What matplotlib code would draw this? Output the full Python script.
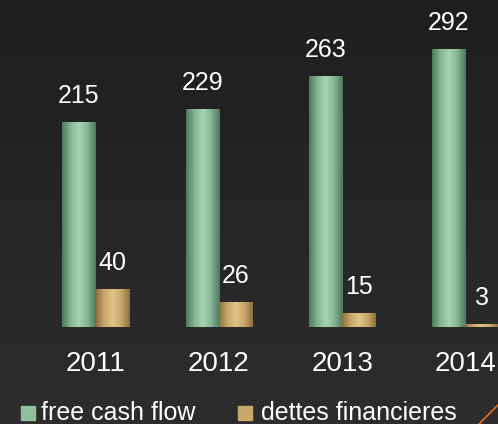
import numpy as np
import matplotlib.pyplot as plt
from matplotlib.colors import LinearSegmentedColormap

years = ['2011', '2012', '2013', '2014']
free_cash_flow = [215, 229, 263, 292]
dettes_financieres = [40, 26, 15, 3]

plt.rcParams['font.family'] = ['Liberation Sans', 'DejaVu Sans']

fig = plt.figure(figsize=(4.98, 4.24), dpi=100)

# fond sombre en dégradé
bg = fig.add_axes([0, 0, 1, 1])
grad = np.linspace(0, 1, 256).reshape(-1, 1)
bg.imshow(grad, aspect='auto', extent=[0, 1, 0, 1],
          cmap=LinearSegmentedColormap.from_list('bg', ['#1e1e1e', '#2d2d2d']))
bg.plot([0.962, 1.0], [0.0, 0.045], color='#e8701a', lw=1.2)
bg.set_xlim(0, 1)
bg.set_ylim(0, 1)
bg.axis('off')

base = 97 / 424
ax = fig.add_axes([0, base, 1, 1 - base])
ax.patch.set_alpha(0)
x = np.arange(len(years))
w = 0.268

green_cm = LinearSegmentedColormap.from_list(
    'g', ['#4f7a5e', '#86b596', '#a8d3b4', '#86b596', '#4f7a5e'])
gold_cm = LinearSegmentedColormap.from_list(
    'o', ['#8c7140', '#c9a86a', '#e0c388', '#c9a86a', '#8c7140'])
hgrad = np.linspace(0, 1, 64).reshape(1, -1)

b1 = ax.bar(x - w / 2, free_cash_flow, w, color='#8fbf9f', zorder=2)
b2 = ax.bar(x + w / 2, dettes_financieres, w, color='#c9a86a', zorder=2)
for bars, cm in ((b1, green_cm), (b2, gold_cm)):
    for r in bars:
        x0, h = r.get_x(), r.get_height()
        im = ax.imshow(hgrad, aspect='auto', cmap=cm, zorder=3,
                       extent=[x0, x0 + r.get_width(), 0, h])
        im.set_clip_path(r)

for i in x:
    ax.text(i - w / 2, free_cash_flow[i] + 20, str(free_cash_flow[i]),
            ha='center', va='baseline', color='white', fontsize=18)
    ax.text(i + w / 2, dettes_financieres[i] + 20, str(dettes_financieres[i]),
            ha='center', va='baseline', color='white', fontsize=18)
    ax.text(i, -46, years[i], ha='center', va='baseline', color='white', fontsize=20)

ax.set_xlim(-95.5 / 123.3, (498 - 95.5) / 123.3)
ax.set_ylim(0, 343)
ax.axis('off')

# légende
fig.patches.append(plt.Rectangle((21 / 498, 1 - 420 / 424), 14 / 498, 14 / 424,
                                 transform=fig.transFigure, color='#8fbf9f'))
fig.text(41 / 498, 3.5 / 424, 'free cash flow', color='white',
         fontsize=18, va='baseline')
fig.patches.append(plt.Rectangle((238 / 498, 1 - 420 / 424), 14 / 498, 14 / 424,
                                 transform=fig.transFigure, color='#c9a86a'))
fig.text(261 / 498, 3.5 / 424, 'dettes financieres', color='white',
         fontsize=18, va='baseline')

fig.savefig('out.png', dpi=100)
